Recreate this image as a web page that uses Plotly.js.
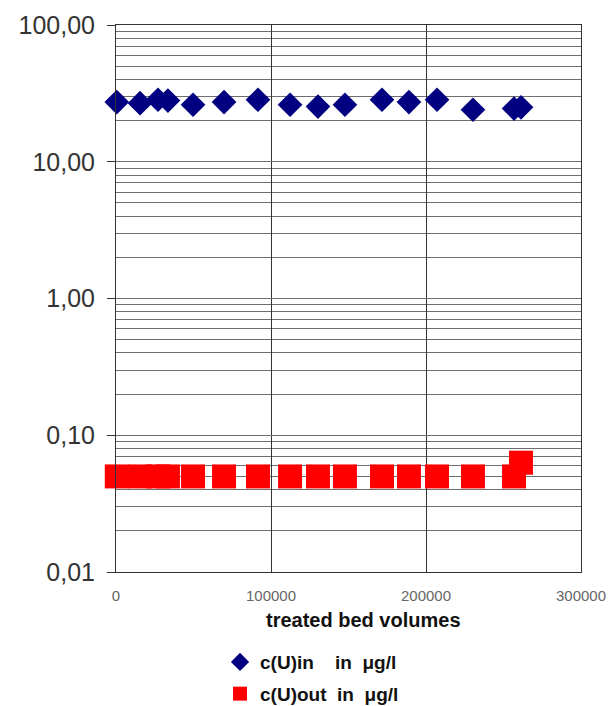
<!DOCTYPE html>
<html>
<head>
<meta charset="utf-8">
<script src="https://cdn.plot.ly/plotly-3.0.1.min.js"></script>
<style>html,body{margin:0;padding:0;background:#fff;}#chart{width:609px;height:706px;}</style>
</head>
<body>
<div id="chart"></div>
<script>
// Data
const bedVolumesIn = [500, 15500, 27100, 33500, 49700, 69700, 91600, 112300, 130300, 147700, 171600, 189000, 207100, 230300, 256800, 261300];
const cUin = [27.3, 26.8, 28.4, 28.0, 26.1, 27.3, 28.4, 26.1, 25.3, 26.1, 28.4, 27.3, 28.4, 24.0, 24.5, 25.0];
const bedVolumesOut = [500, 15500, 27100, 33500, 49700, 69700, 91600, 112300, 130300, 147700, 171600, 189000, 207100, 230300, 256800, 261300];
const cUout = [0.05, 0.05, 0.05, 0.05, 0.05, 0.05, 0.05, 0.05, 0.05, 0.05, 0.05, 0.05, 0.05, 0.05, 0.05, 0.063];
const yTickVals = [0.01, 0.1, 1, 10, 100];
const yTickText = ["0,01", "0,10", "1,00", "10,00", "100,00"];
const xTickVals = [0, 100000, 200000, 300000];
const xTickText = ["0", "100000", "200000", "300000"];
const nameIn = "c(U)in\u00a0\u00a0\u00a0\u00a0in\u00a0\u00a0\u03bcg/l";
const nameOut = "c(U)out\u00a0\u00a0in\u00a0\u00a0\u03bcg/l";

const minorVals = [];
for (let e = -2; e < 2; e++) {
  for (let d = 2; d <= 9; d++) minorVals.push(d * Math.pow(10, e));
}

const FONT = "Arial, 'Liberation Sans', sans-serif";

const traces = [
  {x: bedVolumesIn, y: cUin, mode: "markers", type: "scatter", showlegend: false, cliponaxis: false,
   marker: {symbol: "diamond", size: 19, color: "#000080"}},
  {x: bedVolumesOut, y: cUout, mode: "markers", type: "scatter", showlegend: false, cliponaxis: false,
   marker: {symbol: "square", size: 24, color: "#ff0000"}},
  {x: [null], y: [null], mode: "markers", type: "scatter", name: nameIn, legendgroup: "a",
   marker: {symbol: "diamond", size: 14, color: "#000080"}},
  {x: [null], y: [null], mode: "markers", type: "scatter", name: nameOut, legendgroup: "b",
   marker: {symbol: "square", size: 14, color: "#ff0000"}}
];

const layout = {
  width: 609, height: 706,
  paper_bgcolor: "#ffffff", plot_bgcolor: "#ffffff",
  margin: {l: 116, r: 28, t: 25, b: 134, autoexpand: false},
  font: {family: FONT, color: "#333"},
  xaxis: {
    range: [0, 300000], tickmode: "array", tickvals: xTickVals, ticktext: xTickText,
    showgrid: true, gridcolor: "#333", gridwidth: 1, zeroline: false,
    showline: true, linecolor: "#333", linewidth: 1, mirror: true,
    ticks: "", ticklabelstandoff: 10,
    tickfont: {size: 15, color: "#666", family: FONT}
  },
  yaxis: {
    type: "log", range: [-2, 2], tickmode: "array", tickvals: yTickVals, ticktext: yTickText,
    showgrid: true, gridcolor: "#6e6e6e", gridwidth: 1, zeroline: false,
    showline: true, linecolor: "#333", linewidth: 1, mirror: true,
    ticks: "outside", ticklen: 8, tickcolor: "#333", ticklabelstandoff: 7,
    tickfont: {size: 25, color: "#333", family: FONT},
    minor: {tickmode: "array", tickvals: minorVals, showgrid: true, gridcolor: "#6e6e6e", gridwidth: 1, ticks: ""}
  },
  showlegend: true,
  legend: {
    x: 0.2237, xanchor: "left", y: -0.13, yanchor: "top",
    bgcolor: "rgba(0,0,0,0)", tracegroupgap: 4,
    font: {size: 19, color: "#111", family: FONT, weight: "bold"}
  },
  annotations: [
    {text: "<b>treated bed volumes</b>", xref: "paper", yref: "paper",
     x: (363 - 116) / 465, y: -(620 - 572) / 547, xanchor: "center", yanchor: "middle",
     showarrow: false, font: {size: 20, color: "#111", family: FONT}}
  ]
};

Plotly.newPlot("chart", traces, layout, {displayModeBar: false, staticPlot: true});
</script>
</body>
</html>
